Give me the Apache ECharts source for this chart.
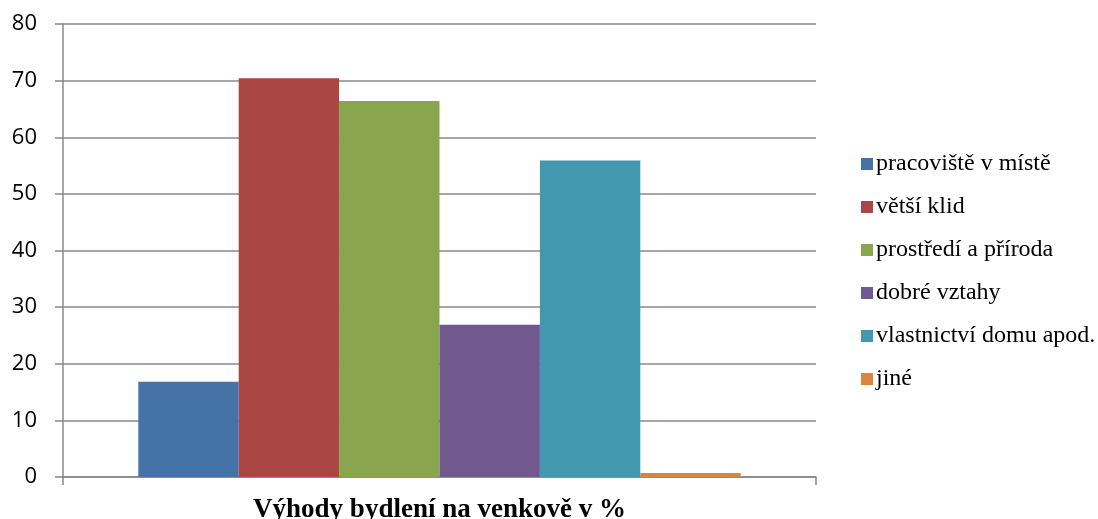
<!DOCTYPE html>
<html>
<head>
<meta charset="utf-8">
<script src="https://cdn.jsdelivr.net/npm/echarts@6/dist/echarts.min.js"></script>
<style>
  html, body { margin: 0; padding: 0; background: #fff; }
  #chart { width: 1098px; height: 519px; }
</style>
</head>
<body>
<div id="chart"></div>
<script>
const categories = ["Výhody bydlení na venkově v %"];
const seriesNames = ["pracoviště v místě", "větší klid", "prostředí a příroda", "dobré vztahy", "vlastnictví domu apod.", "jiné"];
const seriesValues = [16.8, 70.4, 66.4, 26.9, 55.9, 0.7];
const seriesColors = ["#4572a7", "#aa4643", "#89a54e", "#71588f", "#4198af", "#db843d"];

const chart = echarts.init(document.getElementById("chart"));

const series = seriesNames.map((name, i) => ({
  name: name,
  type: "bar",
  data: [seriesValues[i]],
  barGap: "0%",
  barCategoryGap: "20%",
  itemStyle: { color: seriesColors[i] }
}));

chart.setOption({
  animation: false,
  grid: { left: 63, right: 282, top: 24, bottom: 42, outerBoundsMode: "none" },
  legend: {
    orient: "vertical",
    left: 856,
    top: 147,
    itemWidth: 12,
    itemHeight: 12,
    itemGap: 19,
    icon: "rect",
    data: seriesNames,
    textStyle: { fontFamily: "Liberation Serif", fontSize: 24, color: "#000", padding: [0, 0, 0, -2] }
  },
  xAxis: {
    type: "category",
    data: categories,
    axisLine: { lineStyle: { color: "#888", width: 1.5 } },
    axisTick: { show: true, length: 8, lineStyle: { color: "#888", width: 1.5 } },
    axisLabel: { show: false },
    name: categories[0],
    nameLocation: "middle",
    nameGap: 20,
    nameTextStyle: { fontFamily: "Liberation Serif", fontWeight: "bold", fontSize: 27, color: "#000", verticalAlign: "top" }
  },
  yAxis: {
    type: "value",
    min: 0,
    max: 80,
    interval: 10,
    axisLine: { show: true, lineStyle: { color: "#888", width: 1.5 } },
    axisTick: { show: true, length: 8, lineStyle: { color: "#888", width: 1.5 } },
    axisLabel: { margin: 26, fontFamily: "Open Sans", fontSize: 22, color: "#000" },
    splitLine: { lineStyle: { color: "#888", width: 1.5 } }
  },
  series: series
});
</script>
</body>
</html>
